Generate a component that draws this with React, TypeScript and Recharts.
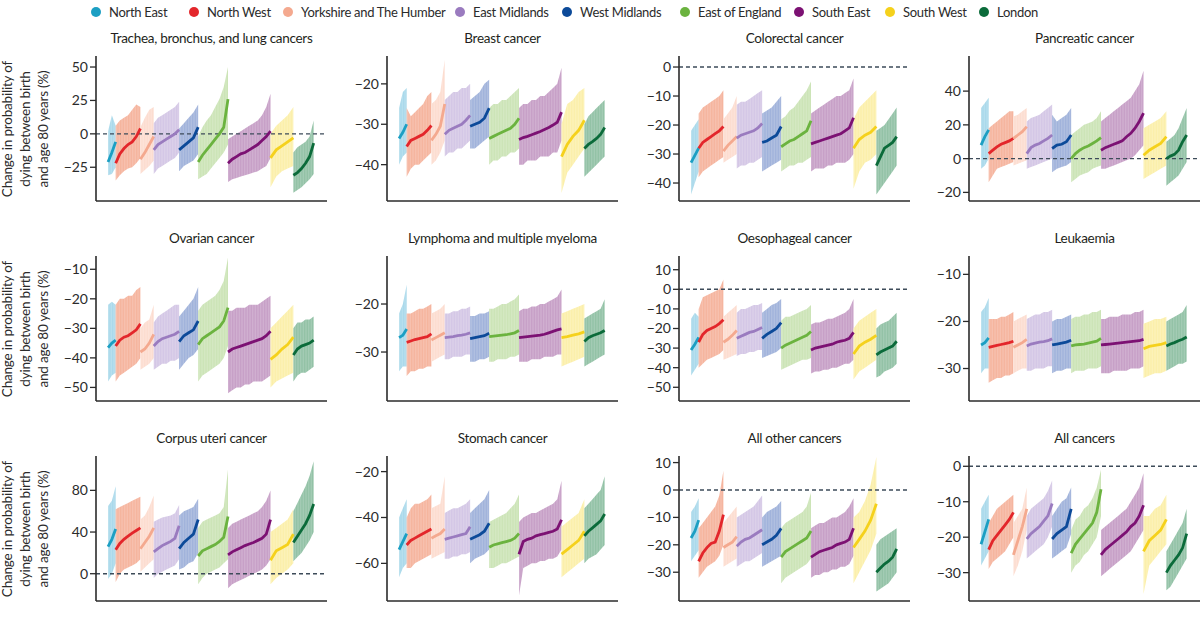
import React from 'react'
import { ComposedChart, Area, Line, XAxis, YAxis, ReferenceLine } from 'recharts'

// regions in plotting order
const regions = [
  'North East',
  'North West',
  'Yorkshire and The Humber',
  'East Midlands',
  'West Midlands',
  'East of England',
  'South East',
  'South West',
  'London',
]
const pointColors = ['#1c9fc3', '#e3262b', '#f4a98f', '#9a7bbf', '#0c4a99', '#6bb33f', '#7c1173', '#f5d11c', '#0b6b3a']
const bandColors = ['#a8d8ea', '#f5b39c', '#fcdccf', '#d3c6e5', '#9fb1da', '#cbe3b5', '#c69dc5', '#fbefa9', '#90c0a4']
const districtCounts = [12, 39, 21, 40, 30, 47, 67, 36, 32]

// Trachea, bronchus, and lung cancers
const lungMid = [
  [-21, -14, -6],
  [-22, -15, -11, -8, -6, -2, 4],
  [-19, -14, -8, -2],
  [-12, -8, -6, -4, -2, 0, 3],
  [-12, -9, -6, -3, 5],
  [-21, -16, -12, -8, -4, 0, 5, 26],
  [-22, -19, -17, -15, -14, -12, -10, -8, -5, -2, 2],
  [-18, -12, -9, -6, -3],
  [-31, -29, -26, -22, -17, -7],
]
const lungLo = [
  [-31, -30, -25],
  [-35, -31, -28, -26, -25, -22, -18],
  [-30, -27, -24, -20],
  [-30, -26, -24, -22, -20, -18, -14],
  [-28, -24, -22, -20, -15],
  [-34, -32, -30, -26, -22, -18, -14, -8],
  [-36, -34, -33, -32, -31, -30, -29, -28, -26, -24, -18],
  [-40, -32, -28, -26, -24],
  [-44, -42, -40, -37, -34, -30],
]
const lungHi = [
  [2, 14, 6],
  [6, 10, 12, 14, 18, 22, 20],
  [5, 12, 18, 20],
  [8, 12, 14, 16, 18, 20, 24],
  [4, 8, 12, 16, 22],
  [-2, 5, 10, 14, 20, 26, 35, 50],
  [-4, -2, 0, 2, 4, 6, 8, 10, 14, 20, 30],
  [0, 6, 10, 14, 20],
  [-14, -10, -8, -6, -2, 10],
]
const lungTicks = [-25, 0, 25, 50]

// Breast cancer
const breastMid = [
  [-33.5, -32, -30],
  [-35.5, -34, -33.5, -33, -32.5, -31.5, -30.3],
  [-34, -32.5, -30.5, -25],
  [-32.5, -31.5, -31, -30.5, -30, -29, -27.8],
  [-30.5, -30, -29.5, -28.5, -26],
  [-33.5, -33, -32.5, -32, -31.5, -31, -30, -28.5],
  [-33.8, -33.3, -33, -32.6, -32.2, -31.8, -31.3, -30.8, -30.2, -29.5, -27],
  [-38, -35, -33, -31.5, -29],
  [-36, -35, -34.3, -33.5, -32.5, -30.8],
]
const breastLo = [
  [-40, -38, -37],
  [-43, -41, -40, -40, -39, -38, -37],
  [-40, -39, -37, -34],
  [-38, -37, -37, -36, -36, -35, -34],
  [-36, -36, -35, -34, -33],
  [-40, -39, -39, -38, -38, -37, -37, -36],
  [-40, -40, -39, -39, -39, -38, -38, -38, -37, -37, -34],
  [-47, -42, -40, -38, -36],
  [-43, -42, -41, -40, -39, -38],
]
const breastHi = [
  [-26, -22, -21],
  [-26, -28, -27, -26, -25, -23, -22],
  [-25, -24, -22, -14],
  [-24, -23, -22, -22, -21, -21, -20],
  [-24, -23, -22, -20, -19],
  [-26, -25, -25, -24, -24, -23, -22, -21],
  [-26, -25, -25, -24, -24, -23, -23, -22, -21, -20, -16],
  [-30, -25, -24, -22, -21],
  [-30, -28, -27, -26, -25, -24],
]
const breastTicks = [-40, -30, -20]

// Colorectal cancer
const colorectalMid = [
  [-33, -30.5, -28],
  [-28, -26, -25, -24, -23, -22, -20.5],
  [-29, -27, -25.5, -24],
  [-24.5, -23.5, -23, -22.5, -22, -21, -19.5],
  [-26, -25.5, -24.5, -23.5, -20.5],
  [-27.5, -26.5, -25.5, -25, -24, -23, -22, -18.5],
  [-26.5, -26, -25.5, -25, -24.5, -24, -23.5, -23, -22, -21, -17.5],
  [-28, -25, -23.5, -22.5, -20.5],
  [-34, -31, -28, -27, -26, -24],
]
const colorectalLo = [
  [-44, -40, -36],
  [-38, -36, -35, -34, -33, -32, -31],
  [-33, -32, -31, -30],
  [-35, -34, -34, -33, -33, -32, -31],
  [-36, -35, -34, -33, -32],
  [-36, -35, -34, -34, -33, -33, -32, -31],
  [-36, -35, -35, -35, -34, -34, -33, -33, -33, -32, -30],
  [-42, -36, -33, -32, -30],
  [-44, -42, -40, -38, -36, -34],
]
const colorectalHi = [
  [-22, -20, -18],
  [-16, -14, -13, -12, -11, -10, -8],
  [-18, -16, -14, -10],
  [-13, -12, -12, -11, -10, -9, -8],
  [-16, -15, -14, -12, -10],
  [-18, -17, -15, -14, -12, -10, -8, -5],
  [-16, -15, -14, -13, -12, -11, -10, -10, -9, -8, -4],
  [-18, -14, -12, -10, -8],
  [-22, -21, -20, -18, -16, -14],
]
const colorectalTicks = [-40, -30, -20, -10, 0]

// Pancreatic cancer
const pancreaticMid = [
  [8, 13, 17],
  [3, 5, 7, 8.5, 9.5, 10.5, 12],
  [12, 14, 16, 19],
  [3, 6.5, 8, 9, 10.5, 12, 14],
  [6, 8, 8.5, 10, 14],
  [0, 3, 5, 6.5, 7.5, 9, 10.5, 12.5],
  [5, 6.5, 7.5, 8.5, 9.5, 10.5, 13, 15, 18, 22, 27],
  [2, 5, 7, 9, 13],
  [0, 1.5, 2.5, 5, 10, 14],
]
const pancreaticLo = [
  [-6, -4, 0],
  [-14, -10, -6, -5, -4, -3, -2],
  [-4, -3, -2, -1],
  [-6, -5, -4, -3, -2, -1, 0],
  [-8, -6, -5, -4, -2],
  [-14, -12, -10, -9, -8, -6, -5, -4],
  [-6, -6, -5, -4, -3, -2, -1, 0, 2, 5, 8],
  [-12, -10, -8, -6, -4],
  [-16, -14, -12, -10, -6, -2],
]
const pancreaticHi = [
  [30, 33, 36],
  [18, 20, 22, 24, 26, 28, 28],
  [25, 26, 28, 30],
  [22, 24, 25, 26, 28, 30, 32],
  [26, 22, 24, 26, 30],
  [14, 16, 18, 20, 21, 22, 24, 28],
  [22, 24, 26, 28, 30, 32, 34, 36, 40, 44, 52],
  [18, 20, 22, 24, 28],
  [10, 12, 14, 18, 24, 30],
]
const pancreaticTicks = [-20, 0, 20, 40]

// Ovarian cancer
const ovarianMid = [
  [-36.5, -35, -34],
  [-36, -34, -33, -32.5, -31.5, -30.5, -28.5],
  [-38, -37, -35, -32],
  [-36, -34.5, -33.5, -33, -32.5, -32, -31],
  [-34.5, -32.5, -31.5, -30.5, -27.5],
  [-35.5, -33.5, -32.5, -31.5, -30.5, -29.5, -27.5, -23],
  [-38, -37, -36.5, -36, -35.5, -35, -34.5, -34, -33.5, -32.5, -31],
  [-40.5, -39, -37, -35.5, -33],
  [-39, -37, -36, -35.5, -35, -34],
]
const ovarianLo = [
  [-48, -46, -45],
  [-48, -46, -45, -44, -43, -42, -40],
  [-44, -43, -42, -40],
  [-44, -43, -42, -42, -41, -41, -40],
  [-44, -42, -40, -39, -37],
  [-48, -46, -45, -44, -43, -42, -40, -36],
  [-52, -51, -50, -50, -49, -49, -48, -48, -48, -47, -46],
  [-50, -48, -47, -46, -45],
  [-48, -46, -45, -45, -44, -43],
]
const ovarianHi = [
  [-22, -21, -22],
  [-22, -20, -20, -19, -19, -17, -16],
  [-30, -28, -27, -22],
  [-28, -26, -25, -24, -23, -22, -22],
  [-26, -24, -22, -20, -16],
  [-24, -22, -21, -20, -19, -17, -14, -6],
  [-24, -24, -23, -23, -23, -22, -22, -22, -21, -20, -19],
  [-30, -28, -26, -24, -22],
  [-30, -28, -28, -27, -27, -26],
]
const ovarianTicks = [-50, -40, -30, -20, -10]

// Lymphoma and multiple myeloma
const lymphomaMid = [
  [-27, -26.5, -25.2],
  [-28, -27.7, -27.4, -27.2, -27, -26.8, -26.2],
  [-27.5, -27, -26.5, -26],
  [-27, -26.9, -26.8, -26.6, -26.5, -26.3, -26],
  [-27.2, -27, -26.8, -26.6, -26.1],
  [-26.8, -26.7, -26.6, -26.5, -26.4, -26.2, -26, -25.5],
  [-27, -26.9, -26.8, -26.7, -26.6, -26.5, -26.3, -26, -25.7, -25.4, -25.2],
  [-27, -26.8, -26.5, -26.2, -25.8],
  [-27.8, -27, -26.6, -26.3, -26, -25.5],
]
const lymphomaLo = [
  [-34, -33, -33],
  [-35, -34, -34, -33.5, -33.5, -33, -33],
  [-32, -31.5, -31, -30.5],
  [-31.5, -31.5, -31, -31, -31, -30.5, -30.5],
  [-32, -32, -31.5, -31.5, -31],
  [-32, -32, -31.5, -31.5, -31.5, -31, -31, -30.5],
  [-32, -32, -32, -31.5, -31.5, -31.5, -31, -31, -31, -30.5, -30.5],
  [-33, -32.5, -32, -31.5, -31],
  [-33, -32.5, -32, -31.5, -31, -30.5],
]
const lymphomaHi = [
  [-22, -20, -16],
  [-22, -22, -21.5, -21, -21, -20.5, -20],
  [-22, -21.5, -21, -20],
  [-22, -22, -21.5, -21.5, -21, -21, -20.5],
  [-22.5, -22.5, -22, -22, -21.5],
  [-21, -21, -20.5, -20, -20, -19.5, -19, -18],
  [-21.5, -21, -21, -20.5, -20.5, -20, -20, -19.5, -19, -18.5, -17],
  [-22, -21.5, -21, -20.5, -20],
  [-23, -22.5, -22, -21.5, -21, -19],
]
const lymphomaTicks = [-30, -20]

// Oesophageal cancer
const oesophagealMid = [
  [-31, -28, -24.5],
  [-27, -23, -21, -20, -19, -17.5, -15.5],
  [-27, -25.5, -23.5, -21],
  [-25, -24, -23, -22, -21.5, -20.5, -19.5],
  [-25, -23, -21.5, -20, -17],
  [-30, -28.5, -27.5, -26.5, -25.5, -24.5, -23.5, -21.5],
  [-31, -30, -29.5, -29, -28.5, -28, -27, -26.5, -26, -25, -22],
  [-33, -29, -27, -25.5, -23.5],
  [-33.5, -32, -31, -30, -29, -26.5],
]
const oesophagealLo = [
  [-44, -41, -38],
  [-40, -38, -36, -35, -34, -33, -31],
  [-36, -35, -34, -33],
  [-34, -33, -33, -32, -32, -31, -31],
  [-35, -34, -33, -32, -30],
  [-41, -40, -39, -38, -37, -36, -36, -35],
  [-43, -42, -42, -41, -41, -40, -40, -39, -38, -38, -36],
  [-46, -42, -40, -38, -36],
  [-45, -44, -42, -41, -40, -38],
]
const oesophagealHi = [
  [-15, -12, -14],
  [-10, -4, -3, -2, -1, 0, 5],
  [-14, -12, -10, -8],
  [-12, -10, -10, -9, -8, -8, -7],
  [-12, -10, -8, -7, -5],
  [-16, -14, -14, -13, -12, -11, -10, -8],
  [-18, -17, -17, -16, -15, -15, -14, -13, -12, -10, -5],
  [-20, -16, -14, -12, -10],
  [-20, -18, -17, -16, -14, -12],
]
const oesophagealTicks = [-50, -40, -30, -20, -10, 0, 10]

// Leukaemia
const leukaemiaMid = [
  [-25, -24.5, -23.5],
  [-25.5, -25.3, -25.1, -24.9, -24.7, -24.5, -24.2],
  [-25.5, -25, -24.5, -23.8],
  [-25.2, -24.8, -24.6, -24.4, -24.3, -24.1, -23.7],
  [-25, -24.8, -24.6, -24.4, -24],
  [-25.2, -25, -24.9, -24.8, -24.6, -24.4, -24.2, -23.6],
  [-25, -24.9, -24.8, -24.7, -24.6, -24.5, -24.4, -24.3, -24.2, -24.1, -23.8],
  [-25.8, -25.3, -25.1, -24.9, -24.5],
  [-25.2, -24.8, -24.5, -24.1, -23.8, -23.3],
]
const leukaemiaLo = [
  [-31, -30, -30],
  [-33, -32.5, -32, -32, -31.5, -31.5, -31],
  [-31, -30.5, -30, -30],
  [-30.5, -30.5, -30, -30, -30, -29.5, -29.5],
  [-31, -30.5, -30.5, -30, -30],
  [-31, -30.5, -30.5, -30.5, -30, -30, -30, -29.5],
  [-31, -31, -31, -30.5, -30.5, -30.5, -30.5, -30, -30, -30, -29.5],
  [-32, -31.5, -31, -31, -30.5],
  [-30.5, -30, -29.5, -29, -29, -28.5],
]
const leukaemiaHi = [
  [-18, -17, -15],
  [-19.5, -19.5, -19.5, -19, -19, -18.5, -18],
  [-20, -19.5, -19, -18.5],
  [-19.5, -19, -18.5, -18.5, -18, -18, -17.5],
  [-20, -19.5, -19.5, -19, -18.5],
  [-19.5, -19, -19, -18.5, -18.5, -18, -18, -17.5],
  [-19.5, -19.5, -19, -19, -19, -18.5, -18.5, -18.5, -18, -18, -17.5],
  [-20.5, -20, -19.5, -19.5, -19],
  [-20, -19.5, -19, -18.5, -18, -16.5],
]
const leukaemiaTicks = [-30, -20, -10]

// Corpus uteri cancer
const corpusMid = [
  [26, 33, 43],
  [23, 29, 33, 36, 39, 41.5, 44],
  [24, 30, 36, 44],
  [21, 24, 27, 29, 31, 34, 46],
  [24, 30, 34, 38, 52],
  [17, 22, 24, 26, 28, 31, 35, 55],
  [18, 21, 23, 25, 27, 28.5, 30, 32, 34, 38, 52],
  [13, 22, 25, 28, 38],
  [30, 36, 42, 48, 56, 67],
]
const corpusLo = [
  [-5, 0, 10],
  [-8, 0, 4, 6, 8, 10, 14],
  [2, 6, 10, 14],
  [-4, 0, 2, 4, 6, 8, 14],
  [4, 6, 10, 12, 20],
  [-10, -4, 0, 2, 4, 6, 10, 14],
  [-14, -10, -8, -6, -4, -2, 0, 2, 4, 8, 14],
  [-10, -4, 0, 4, 10],
  [12, 16, 20, 26, 32, 40],
]
const corpusHi = [
  [65, 70, 84],
  [62, 64, 66, 68, 70, 72, 74],
  [52, 56, 64, 75],
  [50, 52, 54, 55, 56, 58, 66],
  [56, 60, 62, 64, 72],
  [44, 50, 52, 54, 56, 58, 64, 100],
  [44, 48, 50, 52, 54, 56, 58, 60, 64, 70, 80],
  [40, 44, 48, 52, 62],
  [60, 68, 76, 84, 94, 108],
]
const corpusTicks = [0, 40, 80]

// Stomach cancer
const stomachMid = [
  [-54, -50.5, -47],
  [-52, -50, -49, -48, -47, -46, -45],
  [-49, -48, -47, -45],
  [-49.5, -49, -48.5, -48, -47.5, -47, -44],
  [-49.5, -48.5, -47.5, -46, -42.5],
  [-53, -52, -51.5, -51, -50.5, -50, -49, -47],
  [-56, -50.5, -49.5, -49, -48, -47.5, -47, -46.5, -46, -45, -41],
  [-56, -54, -52, -50, -46],
  [-48, -46, -44.5, -43, -41.5, -38.5],
]
const stomachLo = [
  [-66, -62, -60],
  [-62, -62, -60, -59, -58, -57, -56],
  [-58, -57, -56, -55],
  [-58, -58, -57, -57, -56, -56, -55],
  [-60, -58, -57, -56, -54],
  [-62, -62, -61, -60, -60, -59, -58, -57],
  [-74, -62, -61, -60, -60, -59, -59, -58, -58, -57, -54],
  [-66, -64, -62, -60, -58],
  [-60, -58, -57, -56, -54, -52],
]
const stomachHi = [
  [-40, -36, -32],
  [-40, -36, -34, -34, -33, -32, -30],
  [-36, -35, -34, -22],
  [-38, -37, -36, -36, -35, -34, -32],
  [-38, -36, -34, -32, -28],
  [-42, -41, -40, -39, -38, -36, -34, -30],
  [-42, -40, -39, -38, -38, -37, -36, -35, -34, -32, -24],
  [-44, -42, -40, -38, -32],
  [-36, -34, -32, -30, -28, -22],
]
const stomachTicks = [-60, -40, -20]

// All other cancers
const otherMid = [
  [-17.5, -15, -11],
  [-26, -23, -21, -19.5, -19, -15, -9],
  [-21, -20, -19, -17],
  [-20.5, -19, -18, -17.5, -16.5, -15.5, -14.5],
  [-20, -19, -18, -16.5, -14],
  [-24.5, -22.5, -21.5, -20.5, -19.5, -18.5, -17.5, -15],
  [-24.5, -23.5, -22.5, -22, -21.5, -21, -20, -19.5, -19, -18, -14],
  [-21, -18, -15, -11, -5],
  [-30, -28.5, -27, -26, -24.5, -21.5],
]
const otherLo = [
  [-26, -24, -22],
  [-32, -30, -28, -27, -26, -24, -20],
  [-28, -27, -26, -25],
  [-28, -27, -26, -26, -25, -24, -23],
  [-28, -27, -26, -25, -24],
  [-34, -32, -31, -30, -29, -28, -27, -25],
  [-32, -31, -31, -30, -30, -29, -29, -28, -28, -27, -24],
  [-34, -30, -26, -22, -16],
  [-37, -36, -35, -34, -32, -30],
]
const otherHi = [
  [-8, -6, -3],
  [-14, -12, -10, -8, -6, -2, 7],
  [-12, -10, -8, -6],
  [-10, -9, -8, -7, -6, -4, -2],
  [-10, -8, -7, -6, -4],
  [-14, -12, -11, -10, -9, -8, -6, -1],
  [-14, -13, -12, -12, -11, -10, -10, -9, -8, -6, -3],
  [-10, -8, -4, 2, 12],
  [-20, -18, -17, -16, -15, -14],
]
const otherTicks = [-30, -20, -10, 0, 10]

// All cancers
const allMid = [
  [-22, -18.5, -15],
  [-23.5, -21, -19.5, -18, -16.5, -15, -13],
  [-25, -21, -17, -12],
  [-20.5, -19, -18, -17, -15.5, -14, -10.5],
  [-20.5, -19, -18, -17, -12],
  [-24.5, -22, -20.5, -19, -17.5, -16, -13, -6.5],
  [-25, -23.5, -22.5, -21.5, -20.5, -19.5, -18.5, -17, -16, -14, -11],
  [-24, -21, -19.5, -18, -15],
  [-30, -28, -26.5, -25, -23, -19],
]
const allLo = [
  [-28, -26, -24],
  [-29, -27, -26, -25, -24, -22, -20],
  [-31, -28, -24, -18],
  [-26, -25, -24, -23, -22, -20, -17],
  [-26, -25, -24, -23, -19],
  [-30, -28, -27, -25, -24, -22, -20, -14],
  [-31, -30, -29, -28, -27, -26, -25, -24, -22, -20, -18],
  [-36, -28, -26, -24, -22],
  [-35, -34, -32, -30, -28, -26],
]
const allHi = [
  [-12, -10, -8],
  [-16, -14, -12, -11, -10, -9, -8],
  [-16, -14, -12, -6],
  [-14, -12, -11, -10, -9, -7, -4],
  [-14, -12, -10, -9, -6],
  [-18, -15, -14, -12, -11, -9, -6, -1],
  [-18, -17, -16, -15, -14, -13, -12, -10, -8, -6, -2],
  [-14, -14, -12, -11, -8],
  [-24, -22, -20, -18, -16, -12],
]
const allTicks = [-30, -20, -10, 0]

const panels = [
  { title: 'Trachea, bronchus, and lung cancers', mid: lungMid, lo: lungLo, hi: lungHi, ticks: lungTicks, domain: [-50.25, 58.25] },
  { title: 'Breast cancer', mid: breastMid, lo: breastLo, hi: breastHi, ticks: breastTicks, domain: [-49, -13.1] },
  { title: 'Colorectal cancer', mid: colorectalMid, lo: colorectalLo, hi: colorectalHi, ticks: colorectalTicks, domain: [-46.2, 3.8] },
  { title: 'Pancreatic cancer', mid: pancreaticMid, lo: pancreaticLo, hi: pancreaticHi, ticks: pancreaticTicks, domain: [-25.1, 60.8] },
  { title: 'Ovarian cancer', mid: ovarianMid, lo: ovarianLo, hi: ovarianHi, ticks: ovarianTicks, domain: [-54.6, -5.5] },
  { title: 'Lymphoma and multiple myeloma', mid: lymphomaMid, lo: lymphomaLo, hi: lymphomaHi, ticks: lymphomaTicks, domain: [-40.2, -10] },
  { title: 'Oesophageal cancer', mid: oesophagealMid, lo: oesophagealLo, hi: oesophagealHi, ticks: oesophagealTicks, domain: [-57, 17] },
  { title: 'Leukaemia', mid: leukaemiaMid, lo: leukaemiaLo, hi: leukaemiaHi, ticks: leukaemiaTicks, domain: [-36.9, -6.1] },
  { title: 'Corpus uteri cancer', mid: corpusMid, lo: corpusLo, hi: corpusHi, ticks: corpusTicks, domain: [-26.2, 113] },
  { title: 'Stomach cancer', mid: stomachMid, lo: stomachLo, hi: stomachHi, ticks: stomachTicks, domain: [-76.4, -13.2] },
  { title: 'All other cancers', mid: otherMid, lo: otherLo, hi: otherHi, ticks: otherTicks, domain: [-40.5, 12.4] },
  { title: 'All cancers', mid: allMid, lo: allLo, hi: allHi, ticks: allTicks, domain: [-38, 2.9] },
]

const FONT = 'Lato, "Open Sans", sans-serif'
const INK = '#2b2b2b'
const colX = [96, 387, 679, 969]
const rowY = [56, 256, 456]
const legendX = [96, 194, 288, 460, 567, 685, 799, 890, 984]
const PLOT_W = 231
const PLOT_H = 145
const Y_W = 44
const M_TOP = 4

const fmt = (v: number) => (v < 0 ? `\u2212${Math.abs(v)}` : `${v}`)

// one row per sampled district; each region only fills its own keys
function buildRows(mid: number[][], lo: number[][], hi: number[][]) {
  const rows: Record<string, any>[] = []
  let start = 0
  districtCounts.forEach((n, r) => {
    const k = mid[r].length
    mid[r].forEach((v, j) => {
      rows.push({
        x: start + (j * n) / (k - 1),
        [`m${r}`]: v,
        [`b${r}`]: [lo[r][j], hi[r][j]],
      })
    })
    start += n
  })
  return rows
}

function Panel({ p, idx }: { p: (typeof panels)[number]; idx: number }) {
  const col = idx % 4
  const row = Math.floor(idx / 4)
  const rows = buildRows(p.mid, p.lo, p.hi)
  const showZero = p.domain[0] < 0 && p.domain[1] > 0
  return (
    <>
      <div
        style={{
          position: 'absolute',
          left: colX[col] - 20,
          width: PLOT_W + 40,
          top: rowY[row] - 27,
          lineHeight: '18px',
          fontSize: 13.5,
          letterSpacing: -0.3,
          textAlign: 'center',
          color: '#231f20',
          whiteSpace: 'nowrap',
        }}
      >
        {p.title}
      </div>
      <div style={{ position: 'absolute', left: colX[col] - Y_W, top: rowY[row] - M_TOP }}>
        <ComposedChart
          width={Y_W + PLOT_W + 4}
          height={M_TOP + PLOT_H + 1 + 2}
          data={rows}
          margin={{ top: M_TOP, right: 4, bottom: 2, left: 0 }}
        >
          <defs>
            {bandColors.map((c, r) => (
              <pattern
                key={r}
                id={`stripe-${idx}-${r}`}
                width={1.6}
                height={8}
                patternUnits="userSpaceOnUse"
              >
                <rect width={1.6} height={8} fill={c} />
                <rect width={0.5} height={8} fill="#ffffff" fillOpacity={0.32} />
              </pattern>
            ))}
          </defs>
          <XAxis
            dataKey="x"
            type="number"
            domain={[-19, 345]}
            allowDataOverflow
            tick={false}
            tickLine={false}
            height={1}
            axisLine={{ stroke: INK, strokeWidth: 1.6 }}
          />
          <YAxis
            type="number"
            domain={p.domain}
            allowDataOverflow
            ticks={p.ticks}
            interval={0}
            width={Y_W}
            tickSize={6}
            tickMargin={2}
            tickFormatter={fmt}
            tick={{ fontSize: 14, fill: INK, fontFamily: FONT }}
            tickLine={{ stroke: INK, strokeWidth: 1.3 }}
            axisLine={{ stroke: INK, strokeWidth: 1.6 }}
          />
          {regions.map((name, r) => (
            <Area
              key={`band-${r}`}
              dataKey={`b${r}`}
              name={name}
              type="linear"
              stroke="none"
              fill={`url(#stripe-${idx}-${r})`}
              fillOpacity={1}
              isAnimationActive={false}
            />
          ))}
          {showZero && (
            <ReferenceLine y={0} stroke="#3d4b59" strokeWidth={1.4} strokeDasharray="4 3" />
          )}
          {regions.map((name, r) => (
            <Line
              key={`mid-${r}`}
              dataKey={`m${r}`}
              name={name}
              type="linear"
              stroke={pointColors[r]}
              strokeWidth={2.8}
              dot={false}
              isAnimationActive={false}
            />
          ))}
        </ComposedChart>
      </div>
    </>
  )
}

function AxisTitle({ row }: { row: number }) {
  return (
    <div
      style={{
        position: 'absolute',
        left: 25,
        top: rowY[row] + PLOT_H / 2,
        transform: 'translate(-50%, -50%) rotate(-90deg)',
        textAlign: 'center',
        whiteSpace: 'nowrap',
        lineHeight: '18px',
        fontSize: 13.5,
        letterSpacing: -0.2,
        color: INK,
      }}
    >
      <div>Change in probability of</div>
      <div>dying between birth</div>
      <div>and age 80 years (%)</div>
    </div>
  )
}

export default function App() {
  return (
    <div
      style={{
        position: 'absolute',
        left: 0,
        top: 0,
        width: 1200,
        height: 619,
        background: '#fff',
        fontFamily: FONT,
        overflow: 'hidden',
      }}
    >
      {regions.map((name, r) => (
        <div
          key={name}
          style={{
            position: 'absolute',
            left: legendX[r] - 5,
            top: 3,
            display: 'flex',
            alignItems: 'center',
            gap: 8,
            fontSize: 13,
            letterSpacing: -0.3,
            lineHeight: '18px',
            color: INK,
            whiteSpace: 'nowrap',
          }}
        >
          <span
            style={{
              display: 'inline-block',
              width: 10,
              height: 10,
              borderRadius: 5,
              background: pointColors[r],
            }}
          />
          <span>{name}</span>
        </div>
      ))}
      {[0, 1, 2].map((row) => (
        <AxisTitle key={row} row={row} />
      ))}
      {panels.map((p, i) => (
        <Panel key={p.title} p={p} idx={i} />
      ))}
    </div>
  )
}
